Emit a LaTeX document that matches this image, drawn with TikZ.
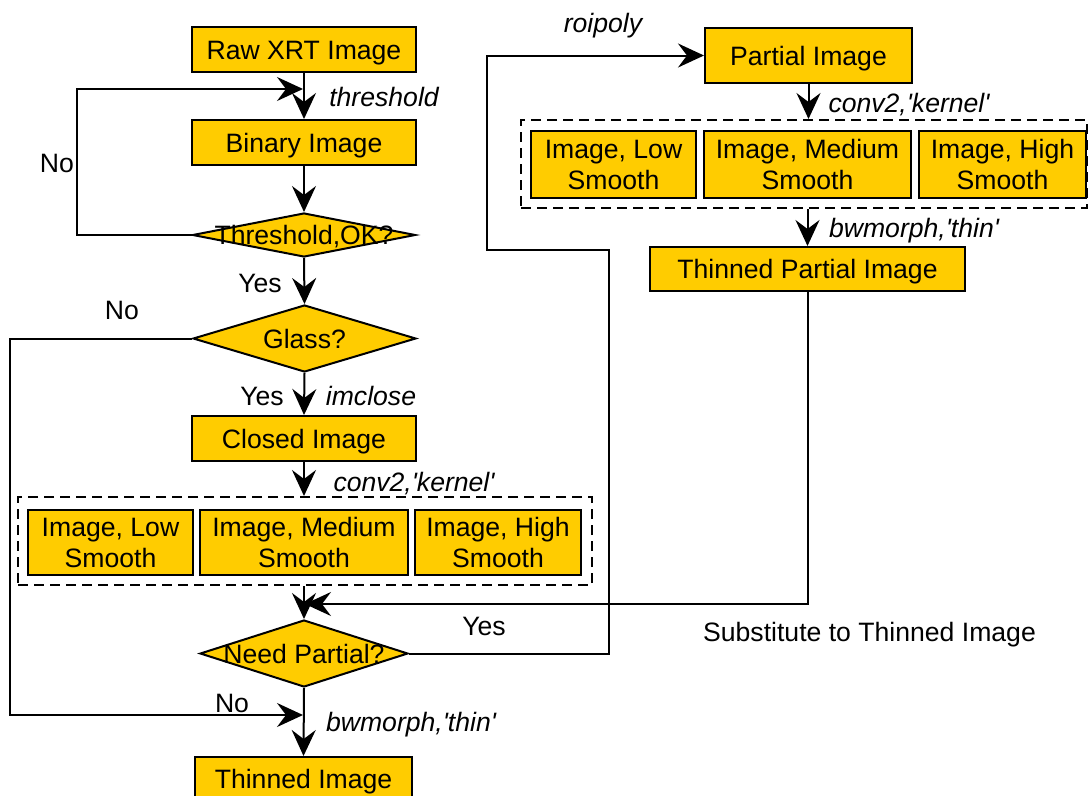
\documentclass[tikz,border=0pt]{standalone}
\usepackage{fontspec}
\setmainfont{Liberation Sans}
\usetikzlibrary{arrows.meta,shapes.geometric}
\definecolor{boxfill}{RGB}{255,204,0}
\newcommand{\sq}{\textquotesingle}
\begin{document}
\begin{tikzpicture}[x=1pt,y=-1pt,
  font=\fontsize{26.6}{31}\selectfont,
  line width=2pt,
  box/.style={draw=black, fill=boxfill, rectangle, inner sep=0pt, align=center,
     text height=19pt, text depth=0pt},
  box2/.style={box, text height=50pt, text depth=0pt},
  dia/.style={draw=black, fill=boxfill, diamond, inner sep=0pt},
  grp/.style={draw=black, dashed, dash pattern=on 10pt off 6pt, rectangle, inner sep=0pt},
  arr/.style={-{Stealth[length=26pt,width=24pt,inset=9pt]}},
  lbl/.style={anchor=base, inner sep=0pt},
  ilbl/.style={anchor=base, inner sep=0pt, font=\fontsize{26.6}{31}\selectfont\itshape},
  diatext/.style={inner sep=0pt, text height=19pt, text depth=0pt}
]
\useasboundingbox (0,0) rectangle (1089,795);

% left column
\node[box, minimum width=224pt, minimum height=45pt] (raw) at (304,49.5) {Raw XRT Image};
\node[box, minimum width=224pt, minimum height=45pt] (bin) at (304,142.5) {Binary Image};
\node[dia, minimum width=223pt, minimum height=44pt] (thr) at (304,235) {};
\node[diatext] at (thr.center) {Threshold,OK?};
\node[dia, minimum width=223pt, minimum height=67pt] (glass) at (304.5,338.5) {};
\node[diatext] at (glass.center) {Glass?};
\node[box, minimum width=224pt, minimum height=45pt] (closed) at (304,438.5) {Closed Image};
\node[grp, minimum width=574pt, minimum height=88pt] (dashL) at (305,541) {};
\node[box2, minimum width=165pt, minimum height=65pt] (lowL) at (110.5,542.5) {Image, Low\\Smooth};
\node[box2, minimum width=208pt, minimum height=65pt] (medL) at (304,542.5) {Image, Medium\\Smooth};
\node[box2, minimum width=166pt, minimum height=65pt] (highL) at (498,542.5) {Image, High\\Smooth};
\node[dia, minimum width=208pt, minimum height=67pt] (need) at (304,653.5) {};
\node[diatext] at (need.center) {Need Partial?};
\node[box, minimum width=217pt, minimum height=44pt] (thin) at (303.5,779) {Thinned Image};

% right column
\node[box, minimum width=207pt, minimum height=55pt] (partial) at (808.5,55.5) {Partial Image};
\node[grp, minimum width=566pt, minimum height=88pt] (dashR) at (804,164) {};
\node[box2, minimum width=165pt, minimum height=67pt] (lowR) at (613.5,164.5) {Image, Low\\Smooth};
\node[box2, minimum width=207pt, minimum height=67pt] (medR) at (807.5,164.5) {Image, Medium\\Smooth};
\node[box2, minimum width=167pt, minimum height=67pt] (highR) at (1002.5,164.5) {Image, High\\Smooth};
\node[box, minimum width=315pt, minimum height=44pt] (thinP) at (807.5,269) {Thinned Partial Image};

% junction coordinates
\coordinate (j1) at (303,89);
\coordinate (j2) at (305,604);
\coordinate (j3) at (303,715);

% connectors
\draw[arr] (raw.south) -- (raw.south |- bin.north);
\draw[arr] (bin.south) -- (thr.north);
\draw[arr] (thr.west) -- (77,235) |- (j1);
\draw[arr] (thr.south) -- (glass.north);
\draw[arr] (glass.west) -- (10,338.5) |- (j3);
\draw[arr] (glass.south) -- (closed.north);
\draw[arr] (closed.south) -- (closed.south |- dashL.north);
\draw[arr] (dashL.south -| need.north) -- (need.north);
\draw[arr] (thinP.south) -- (thinP.south |- j2) -- (j2);
\draw[arr] (need.east) -- (609,653.5) -- (609,250) -- (487,250) |- (partial.west);
\draw[arr] (need.south) -- (thin.north);
\draw[arr] (partial.south) -- (partial.south |- dashR.north);
\draw[arr] (dashR.south -| thinP.north) -- (thinP.north);

% labels
\node[ilbl] (t1) at (384,106) {threshold};
\node[lbl] (n1) at (57,172) {No};
\node[lbl] (y1) at (260,292) {Yes};
\node[lbl] (n2) at (122,319) {No};
\node[lbl] (y2) at (262,405) {Yes};
\node[ilbl] (t2) at (371,405) {imclose};
\node[ilbl] (t3) at (414,491) {conv2,\sq kernel\sq};
\node[lbl] (y3) at (484,635) {Yes};
\node[lbl] (n3) at (232,712) {No};
\node[ilbl] (t4) at (411,731) {bwmorph,\sq thin\sq};
\node[ilbl] (t5) at (603,32) {roipoly};
\node[ilbl] (t6) at (909,112) {conv2,\sq kernel\sq};
\node[ilbl] (t7) at (914,237) {bwmorph,\sq thin\sq};
\node[lbl] (s1) at (869.5,641) {Substitute to Thinned Image};
\end{tikzpicture}
\end{document}
